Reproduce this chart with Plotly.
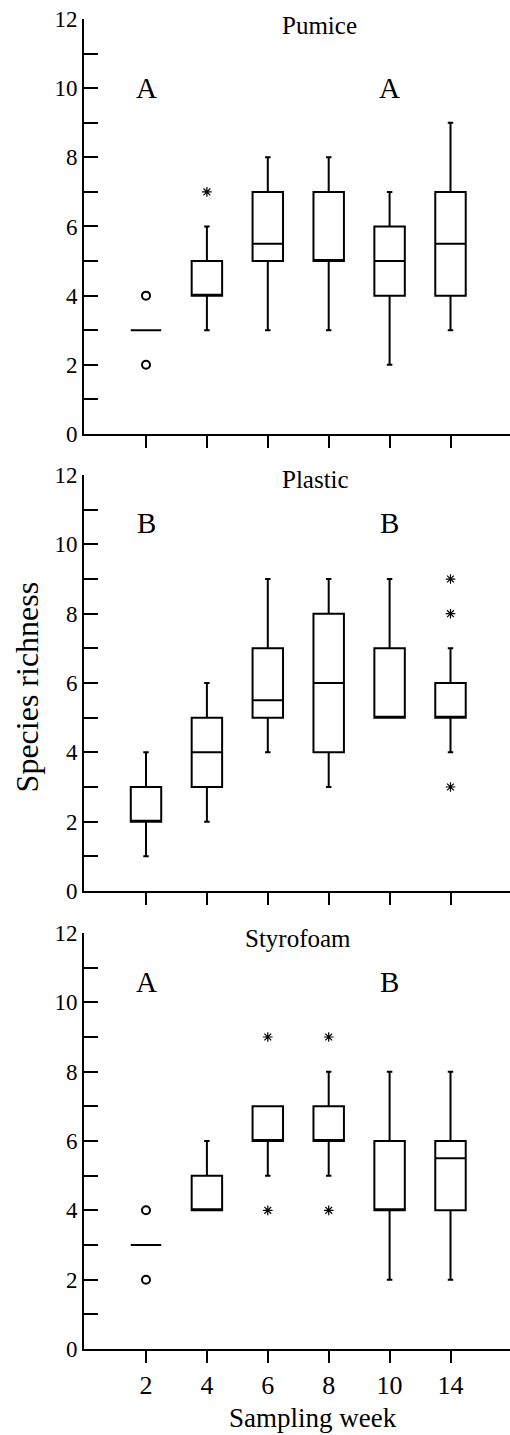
import plotly.graph_objects as go

weeks = ["2", "4", "6", "8", "10", "14"]
xpos = [0, 1, 2, 3, 4, 5]

# Pumice
pum_q1 = [3, 4, 5, 5, 4, 4]
pum_med = [3, 4, 5.5, 5, 5, 5.5]
pum_q3 = [3, 5, 7, 7, 6, 7]
pum_lo = [3, 3, 3, 3, 2, 3]
pum_hi = [3, 6, 8, 8, 7, 9]
pum_circ_x = [0, 0]
pum_circ_y = [2, 4]
pum_star_x = [1]
pum_star_y = [7]

# Plastic
pla_q1 = [2, 3, 5, 4, 5, 5]
pla_med = [2, 4, 5.5, 6, 5, 5]
pla_q3 = [3, 5, 7, 8, 7, 6]
pla_lo = [1, 2, 4, 3, 5, 4]
pla_hi = [4, 6, 9, 9, 9, 7]
pla_circ_x = []
pla_circ_y = []
pla_star_x = [5, 5, 5]
pla_star_y = [9, 8, 3]

# Styrofoam
sty_q1 = [3, 4, 6, 6, 4, 4]
sty_med = [3, 4, 6, 6, 4, 5.5]
sty_q3 = [3, 5, 7, 7, 6, 6]
sty_lo = [3, 4, 5, 5, 2, 2]
sty_hi = [3, 6, 7, 8, 8, 8]
sty_circ_x = [0, 0]
sty_circ_y = [2, 4]
sty_star_x = [2, 2, 3, 3]
sty_star_y = [9, 4, 9, 4]

panels = [
    ("Pumice", pum_q1, pum_med, pum_q3, pum_lo, pum_hi, pum_circ_x, pum_circ_y, pum_star_x, pum_star_y),
    ("Plastic", pla_q1, pla_med, pla_q3, pla_lo, pla_hi, pla_circ_x, pla_circ_y, pla_star_x, pla_star_y),
    ("Styrofoam", sty_q1, sty_med, sty_q3, sty_lo, sty_hi, sty_circ_x, sty_circ_y, sty_star_x, sty_star_y),
]
letters = [("A", "A"), ("B", "B"), ("A", "B")]
letter_y = [10.0, 10.62, 10.6]
title_x = [2.85, 2.79, 2.5]
title_y = [11.82, 11.86, 11.83]

FONT = "Liberation Serif"
domains = [[0.688, 1.0], [0.3444, 0.6571], [0.0, 0.3128]]

fig = go.Figure()
annotations = []
for i, (name, q1, med, q3, lo, hi, cx, cy, sx, sy) in enumerate(panels):
    xa = "x" if i == 0 else f"x{i+1}"
    ya = "y" if i == 0 else f"y{i+1}"
    fig.add_trace(go.Box(
        x=xpos, q1=q1, median=med, q3=q3, lowerfence=lo, upperfence=hi,
        width=0.5, whiskerwidth=0.18,
        line=dict(color="black", width=2), fillcolor="rgba(0,0,0,0)",
        xaxis=xa, yaxis=ya, showlegend=False, boxpoints=False,
    ))
    if cx:
        fig.add_trace(go.Scatter(
            x=cx, y=cy, mode="markers", xaxis=xa, yaxis=ya, showlegend=False,
            marker=dict(symbol="circle-open", size=8, color="black", line=dict(width=2, color="black")),
        ))
    if sx:
        fig.add_trace(go.Scatter(
            x=sx, y=sy, mode="markers", xaxis=xa, yaxis=ya, showlegend=False,
            marker=dict(symbol="asterisk-open", size=8, color="black", line=dict(width=1.2, color="black")),
        ))
    annotations.append(dict(x=title_x[i], y=title_y[i], xref=xa, yref=ya, text=name, showarrow=False,
                            font=dict(family=FONT, size=25, color="black"), xanchor="center", yanchor="middle"))
    for xi, lt in zip([0, 4], letters[i]):
        annotations.append(dict(x=xi, y=letter_y[i], xref=xa, yref=ya, text=lt, showarrow=False,
                                font=dict(family=FONT, size=29, color="black"), xanchor="center", yanchor="middle"))

    xkey = "xaxis" if i == 0 else f"xaxis{i+1}"
    ykey = "yaxis" if i == 0 else f"yaxis{i+1}"
    fig.update_layout({
        xkey: dict(domain=[0, 1], anchor=ya, range=[-1.018, 5.977],
                   tickvals=xpos, ticktext=weeks if i == 2 else [""] * 6,
                   ticks="outside", ticklen=12, tickwidth=2, tickcolor="black",
                   showline=True, linecolor="black", linewidth=2, showgrid=False, zeroline=False,
                   tickfont=dict(family=FONT, size=26, color="black")),
        ykey: dict(domain=domains[i], anchor=xa, range=[0, 12],
                   tickvals=list(range(13)),
                   ticktext=[str(v) if v % 2 == 0 else "" for v in range(13)],
                   ticks="inside", ticklen=14, tickwidth=2, tickcolor="black",
                   showline=True, linecolor="black", linewidth=2, showgrid=False, zeroline=False,
                   tickfont=dict(family=FONT, size=23, color="black")),
    })

annotations.append(dict(x=-0.135, y=0.4978, xref="paper", yref="paper", text="Species richness",
                        textangle=-90, showarrow=False, xanchor="center", yanchor="middle",
                        font=dict(family=FONT, size=32, color="black")))
annotations.append(dict(x=0.5376, y=-0.0519, xref="paper", yref="paper", text="Sampling week",
                        showarrow=False, xanchor="center", yanchor="middle",
                        font=dict(family=FONT, size=27, color="black")))

fig.update_layout(
    width=510, height=1435,
    margin=dict(l=84, r=0, t=19, b=86),
    plot_bgcolor="white", paper_bgcolor="white",
    annotations=annotations, showlegend=False,
)

fig.write_html("out.html")
